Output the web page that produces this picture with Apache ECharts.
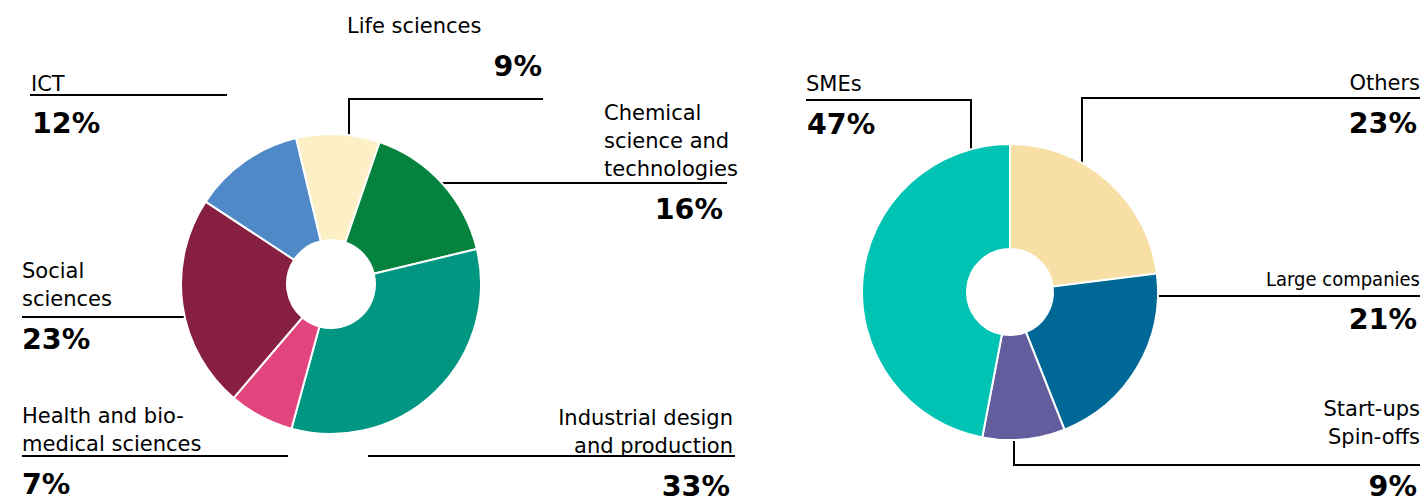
<!DOCTYPE html>
<html><head><meta charset="utf-8">
<script src="https://cdn.jsdelivr.net/npm/echarts@6/dist/echarts.min.js"></script>
<style>html,body{margin:0;padding:0;background:#fff}#c{width:1427px;height:497px}</style>
</head><body><div id="c"></div>
<script>
// ---- data ----
const fieldNames = ['Life sciences', 'Chemical\nscience and\ntechnologies', 'Industrial design\nand production', 'Health and bio-\nmedical sciences', 'Social\nsciences', 'ICT'];
const fieldValues = [9, 16, 33, 7, 23, 12];
const companyNames = ['Others', 'Large companies', 'Start-ups\nSpin-offs', 'SMEs'];
const companyValues = [23, 21, 9, 47];

// ---- styles / layout ----
const fieldColors = ['#FDF0C6', '#05823D', '#009681', '#E2457E', '#871F41', '#4F89C7'];
const companyColors = ['#F7DFA6', '#006896', '#625E9E', '#00C3B4'];
const FONT = "'DejaVu Sans', Verdana, sans-serif";
const NAME_SIZE = 21, LINE_H = 28, PCT_SIZE = 28.5, MID = 0.346;

const fieldPie = { center: [331, 284], radius: [44, 150], startAngle: 103.5 };
const companyPie = { center: [1010, 292], radius: [43, 148], startAngle: 90 };

// name label anchors: [x, first baseline, align]
const fieldNamePos = [[347, 33, 'left'], [604, 120, 'left'], [733, 425, 'right'], [22, 423, 'left'], [22, 278, 'left'], [31, 91, 'left']];
const fieldPctPos = [[542, 76, 'right'], [723, 219, 'right'], [730, 496, 'right'], [22, 494, 'left'], [22, 349, 'left'], [32, 133, 'left']];
const fieldLines = [
  [[543, 99], [349, 99], [349, null]],
  [[727, 183], [null, 183]],
  [[735, 456], [368, 456]],
  [[22, 456], [288, 456]],
  [[22, 317], [null, 317]],
  [[30, 95], [227, 95]]
];
const companyNamePos = [[1420, 90, 'right'], [1420, 286, 'right'], [1420, 416, 'right'], [806, 91, 'left']];
const companyPctPos = [[1417, 133, 'right'], [1417, 329, 'right'], [1417, 496, 'right'], [807, 134, 'left']];
const companyLines = [
  [[1420, 98], [1082, 98], [1082, null]],
  [[1420, 296], [null, 296]],
  [[1420, 465], [1014, 465], [1014, null]],
  [[806, 100], [971, 100], [971, null]]
];

function resolveRim(points, pie) {
  const cx = pie.center[0], cy = pie.center[1], R = pie.radius[1] - 1;
  return points.map((p, i) => {
    const other = points[i === 0 ? 1 : i - 1];
    if (p[1] == null) {
      const d = Math.sqrt(Math.max(0, R * R - (p[0] - cx) * (p[0] - cx)));
      return [p[0], other[1] < cy ? cy - d : cy + d];
    }
    if (p[0] == null) {
      const d = Math.sqrt(Math.max(0, R * R - (p[1] - cy) * (p[1] - cy)));
      return [other[0] > cx ? cx + d : cx - d, p[1]];
    }
    return p;
  });
}

function nameSeries(pie, names, values, colors, pos, lines, extra) {
  return {
    type: 'pie', center: pie.center, radius: pie.radius, startAngle: pie.startAngle,
    clockwise: true, avoidLabelOverlap: false, silent: true, z: 3,
    itemStyle: { borderColor: '#fff', borderWidth: 2 },
    label: { show: true, position: 'outside', formatter: '{b}', color: '#000',
             fontFamily: FONT, fontSize: NAME_SIZE, lineHeight: LINE_H },
    labelLine: { show: true, length: 10, length2: 10, smooth: false,
                 lineStyle: { color: '#000', width: 2 } },
    labelLayout: function (p) {
      const a = pos[p.dataIndex];
      return { x: a[0], y: a[1] - MID * NAME_SIZE - LINE_H / 2, align: a[2], verticalAlign: 'top',
               labelLinePoints: resolveRim(lines[p.dataIndex], pie) };
    },
    data: names.map((n, i) => {
      const d = { name: n, value: values[i], itemStyle: { color: colors[i] } };
      if (extra && extra[i]) d.label = extra[i];
      return d;
    })
  };
}

function pctSeries(pie, names, values, pos) {
  return {
    type: 'pie', center: pie.center, radius: pie.radius, startAngle: pie.startAngle,
    clockwise: true, avoidLabelOverlap: false, silent: true, z: 2,
    itemStyle: { color: 'rgba(0,0,0,0)', borderWidth: 0 },
    label: { show: true, position: 'outside', formatter: '{c}%', color: '#000',
             fontFamily: FONT, fontSize: PCT_SIZE, fontWeight: 'bold', lineHeight: 34 },
    labelLine: { show: false },
    labelLayout: function (p) {
      const a = pos[p.dataIndex];
      return { x: a[0], y: a[1] - MID * PCT_SIZE, align: a[2], verticalAlign: 'middle' };
    },
    data: names.map((n, i) => ({ name: n, value: values[i] }))
  };
}

const chart = echarts.init(document.getElementById('c'), null, { renderer: 'svg' });
chart.setOption({
  animation: false,
  backgroundColor: '#fff',
  series: [
    pctSeries(fieldPie, fieldNames, fieldValues, fieldPctPos),
    nameSeries(fieldPie, fieldNames, fieldValues, fieldColors, fieldNamePos, fieldLines),
    pctSeries(companyPie, companyNames, companyValues, companyPctPos),
    nameSeries(companyPie, companyNames, companyValues, companyColors, companyNamePos, companyLines,
      [null, { fontFamily: "'DejaVu Sans Condensed', 'DejaVu Sans', sans-serif", fontSize: 20 }, null, null])
  ]
});
</script>
</body></html>
